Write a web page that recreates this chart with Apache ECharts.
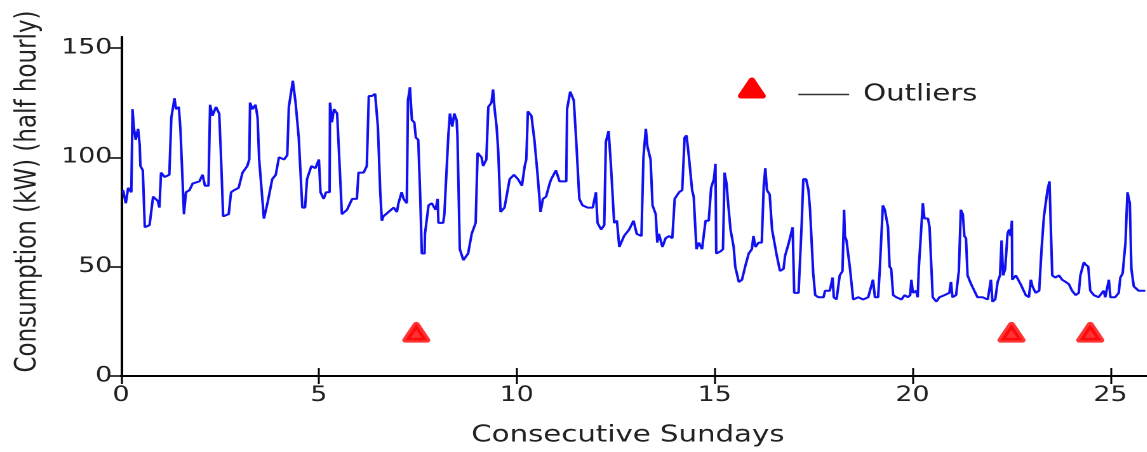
<!DOCTYPE html>
<html>
<head>
<meta charset="utf-8">
<script src="https://cdn.jsdelivr.net/npm/echarts@6.0.0/dist/echarts.min.js"></script>
<style>
  html, body { margin: 0; padding: 0; background: #fff; overflow: hidden; }
  /* the source figure is stretched sideways, so the chart is drawn narrower and widened */
  #main { width: 903px; height: 452px; transform: scaleX(1.27); transform-origin: 0 0; }
</style>
</head>
<body>
<div id="main"></div>
<script>
// half hourly consumption, [sunday, kW]
var consumption = [
	[0.05,85],[0.12,79],[0.18,86],[0.26,84],[0.29,122],[0.32,114],[0.37,108],[0.43,113],[0.47,106],[0.49,96],[0.55,94],[0.60,68],[0.72,69],[0.81,82],[0.93,80],[0.97,77],
	[1.01,93],[1.10,91],[1.22,92],[1.27,118],[1.35,127],[1.39,122],[1.46,123],[1.50,113],[1.59,74],[1.64,84],[1.73,85],[1.81,88],[1.98,89],
	[2.06,92],[2.12,87],[2.21,87],[2.25,124],[2.31,119],[2.40,123],[2.48,120],[2.52,103],[2.58,73],[2.72,74],[2.78,84],[2.86,85],[2.97,86],
	[3.07,93],[3.19,96],[3.24,99],[3.26,125],[3.32,122],[3.40,124],[3.45,118],[3.49,99],[3.61,72],[3.70,79],[3.82,90],[3.91,92],[3.99,100],
	[4.12,99],[4.20,101],[4.24,123],[4.30,130],[4.34,135],[4.41,125],[4.49,109],[4.58,77],[4.65,77],[4.70,90],[4.81,96],[4.91,95],[5.00,99],
	[5.04,84],[5.12,81],[5.18,84],[5.27,84],[5.28,125],[5.33,116],[5.38,122],[5.46,120],[5.50,105],[5.58,74],[5.71,76],[5.84,81],[5.96,81],
	[6.00,93],[6.13,93],[6.21,96],[6.26,128],[6.34,128],[6.42,129],[6.49,114],[6.55,84],[6.59,71],[6.63,73],[6.76,75],[6.89,77],[6.97,75],
	[7.01,79],[7.09,84],[7.14,81],[7.22,79],[7.25,126],[7.30,132],[7.35,117],[7.41,116],[7.45,109],[7.51,108],[7.56,82],[7.60,56],[7.67,56],[7.68,65],[7.77,78],[7.85,79],[7.95,76],
	[8.00,81],[8.02,70],[8.14,70],[8.17,74],[8.23,74],[8.27,110],[8.31,120],[8.37,114],[8.42,120],[8.48,117],[8.50,110],[8.56,58],[8.65,53],[8.77,56],[8.86,65],[8.96,70],
	[9.01,102],[9.11,100],[9.15,96],[9.23,99],[9.28,123],[9.36,125],[9.40,131],[9.44,122],[9.49,114],[9.53,103],[9.59,75],[9.69,77],[9.82,90],[9.93,92],
	[10.03,90],[10.13,87],[10.20,96],[10.24,99],[10.28,121],[10.37,119],[10.45,107],[10.53,91],[10.60,75],[10.66,81],[10.74,82],[10.83,88],[10.87,90],[10.99,94],
	[11.08,89],[11.16,89],[11.25,89],[11.27,122],[11.35,130],[11.44,126],[11.50,108],[11.58,81],[11.66,78],[11.79,77],[11.92,77],
	[12.00,84],[12.04,70],[12.13,67],[12.21,69],[12.25,107],[12.32,112],[12.38,96],[12.46,70],[12.53,71],[12.59,59],[12.71,64],[12.84,67],[12.95,71],
	[13.03,65],[13.09,65],[13.15,64],[13.20,100],[13.26,113],[13.30,105],[13.34,105],[13.38,99],[13.43,78],[13.51,74],[13.55,61],[13.59,65],[13.68,59],[13.76,63],[13.85,64],[13.93,63],[13.99,81],
	[14.10,84],[14.18,85],[14.24,109],[14.29,110],[14.35,100],[14.43,85],[14.47,82],[14.54,58],[14.60,61],[14.68,58],[14.77,71],[14.85,71],[14.91,86],[14.98,90],
	[15.02,97],[15.04,56],[15.15,57],[15.21,58],[15.25,93],[15.30,88],[15.33,81],[15.40,67],[15.48,59],[15.52,50],[15.61,43],[15.69,44],[15.77,50],[15.86,56],[15.94,58],[15.98,64],
	[16.03,59],[16.11,61],[16.19,61],[16.24,87],[16.28,95],[16.32,85],[16.39,83],[16.45,67],[16.57,55],[16.65,48],[16.74,49],[16.78,55],[16.86,60],[16.92,60],[16.97,68],
	[17.01,38],[17.12,38],[17.20,70],[17.24,90],[17.31,90],[17.37,85],[17.41,76],[17.49,47],[17.54,37],[17.62,36],[17.75,36],[17.79,39],[17.91,39],[17.98,45],
	[18.01,36],[18.08,35],[18.16,46],[18.23,48],[18.27,76],[18.29,64],[18.33,62],[18.42,49],[18.50,35],[18.63,36],[18.75,35],[18.88,36],
	[19.00,44],[19.05,36],[19.13,36],[19.17,48],[19.21,48],[19.25,78],[19.30,76],[19.34,76],[19.38,68],[19.42,50],[19.46,49],[19.51,37],[19.59,36],[19.72,35],[19.80,37],[19.88,36],[19.94,37],[19.97,44],
	[20.01,38],[20.09,39],[20.13,36],[20.16,50],[20.22,50],[20.26,79],[20.30,72],[20.39,72],[20.43,68],[20.47,68],[20.51,36],[20.60,34],[20.68,36],[20.81,37],[20.93,38],[20.97,43],
	[21.01,36],[21.10,37],[21.17,48],[21.22,76],[21.27,74],[21.31,64],[21.35,63],[21.39,46],[21.48,42],[21.56,39],[21.64,36],[21.77,36],[21.90,35],[21.98,44],
	[22.02,34],[22.09,35],[22.15,43],[22.21,46],[22.25,62],[22.29,46],[22.34,49],[22.40,65],[22.44,67],[22.48,64],[22.51,71],[22.52,44],[22.61,46],[22.73,42],[22.86,37],[22.94,36],[22.99,44],
	[23.03,41],[23.11,38],[23.20,39],[23.26,58],[23.32,73],[23.41,85],[23.46,89],[23.53,46],[23.61,45],[23.70,46],[23.78,44],[23.87,43],[23.95,42],
	[24.03,39],[24.12,37],[24.20,38],[24.24,46],[24.33,52],[24.37,51],[24.44,50],[24.49,39],[24.58,37],[24.70,36],[24.83,39],[24.87,36],[24.96,44],
	[25.00,36],[25.12,36],[25.21,38],[25.25,45],[25.31,47],[25.38,61],[25.43,84],[25.49,79],[25.53,49],[25.59,41],[25.71,39],[25.88,39]
];
// outlier sundays
var outlierX = [7.46, 22.5, 24.49];
var outlierY = [20, 20, 20];
// y ticks
var yTicks = [0, 50, 100, 150];

var outliers = [];
for (var i = 0; i < outlierX.length; i++) {
	outliers.push([outlierX[i], outlierY[i]]);
}

var font = 'DejaVu Sans';
var myChart = echarts.init(document.getElementById('main'), null, { devicePixelRatio: 2 });

var option = {
	animation: false,
	backgroundColor: '#fff',
	textStyle: { fontFamily: font },
	grid: {
		left: 95.3,
		right: -2.5,
		top: 37,
		bottom: 76,
		outerBoundsMode: 'none'
	},
	legend: {
		left: 623.6,
		top: 78,
		selectedMode: false,
		itemWidth: 40,
		itemHeight: 1.5,
		data: [{
			name: 'Outliers',
			icon: 'rect',
			itemStyle: { color: '#000', borderWidth: 0 }
		}],
		textStyle: {
			fontFamily: font,
			fontSize: 23,
			color: '#222',
			padding: [0, 0, 0, 6]
		}
	},
	graphic: [{
		// red marker beside the legend
		type: 'polygon',
		x: 592,
		y: 88,
		shape: { points: [[0, -8], [8.5, 8], [-8.5, 8]] },
		style: { fill: '#ff0000', stroke: '#ff0000', lineWidth: 5, lineJoin: 'round' }
	}],
	xAxis: [{
		type: 'value',
		position: 'bottom',
		min: 0,
		max: 26,
		interval: 5,
		name: 'Consecutive Sundays',
		nameLocation: 'middle',
		nameGap: 48,
		nameTextStyle: { fontFamily: font, fontSize: 23, color: '#222', padding: [0, 12, 0, 0] },
		axisLine: { lineStyle: { color: '#000', width: 2 } },
		axisTick: { inside: true, length: 8, lineStyle: { color: '#000', width: 1.5 } },
		axisLabel: { fontFamily: font, fontSize: 21, color: '#222', margin: 9, showMaxLabel: false },
		splitLine: { show: false }
	}, {
		type: 'value',
		position: 'top',
		min: 0,
		max: 26,
		interval: 5,
		axisLine: { lineStyle: { color: '#000', width: 2 } },
		axisTick: { inside: true, length: 8, lineStyle: { color: '#000', width: 1.5 } },
		axisLabel: { show: false },
		splitLine: { show: false }
	}],
	yAxis: [{
		type: 'value',
		position: 'left',
		min: 0,
		max: 155,
		interval: 50,
		name: 'Consumption (kW) (half hourly)',
		nameLocation: 'middle',
		nameGap: 62,
		nameTextStyle: { fontFamily: font, fontSize: 23, color: '#222', padding: [0, 0, 0, 30] },
		axisLine: { show: true, lineStyle: { color: '#000', width: 2 } },
		axisTick: { show: true, length: 6.5, customValues: yTicks, lineStyle: { color: '#000', width: 1.5 } },
		axisLabel: { fontFamily: font, fontSize: 21, color: '#222', margin: 7, customValues: yTicks },
		splitLine: { show: false }
	}, {
		type: 'value',
		position: 'right',
		min: 0,
		max: 155,
		interval: 50,
		axisLine: { show: true, lineStyle: { color: '#000', width: 2 } },
		axisTick: { show: true, inside: true, length: 9, customValues: yTicks, lineStyle: { color: '#000', width: 1.5 } },
		axisLabel: { show: false },
		splitLine: { show: false }
	}],
	series: [{
		name: 'Consumption',
		type: 'line',
		xAxisIndex: 0,
		yAxisIndex: 0,
		data: consumption,
		showSymbol: false,
		symbol: 'none',
		lineStyle: { color: '#1010f0', width: 2 },
		silent: true
	}, {
		name: 'Outliers',
		type: 'scatter',
		xAxisIndex: 0,
		yAxisIndex: 0,
		data: outliers,
		symbol: 'triangle',
		symbolSize: [17, 16],
		itemStyle: { color: '#ff0000', borderColor: '#ff0000', borderWidth: 5, borderJoin: 'round' },
		silent: true
	}]
};

myChart.setOption(option);
</script>
</body>
</html>
